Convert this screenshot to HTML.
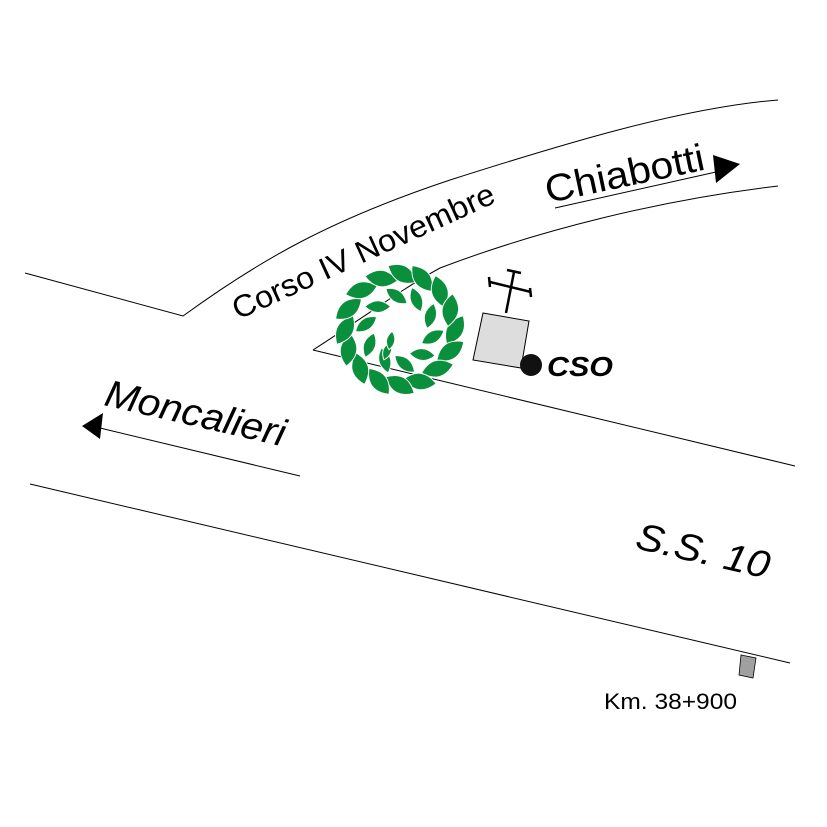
<!DOCTYPE html>
<html><head><meta charset="utf-8"><style>html,body{margin:0;padding:0;background:#fff}svg{display:block}</style></head>
<body>
<svg width="827" height="827" viewBox="0 0 827 827" xmlns="http://www.w3.org/2000/svg" font-family="Liberation Sans, Arial, sans-serif">
<rect width="827" height="827" fill="#fff"/>
<g fill="none" stroke="#000" stroke-width="1">
<path d="M25,273 L183,316 C260,260 330,220 450,180 C560,145 680,108 778,100"/>
<path d="M313,350 C360,320 400,290 440,268 C540,230 660,200 778,186"/>
<path d="M313,350 L795,466"/>
<path d="M30,484 L790,663"/>
<path d="M555,208 L716,172"/>
<path d="M100,428 L300,476"/>
</g>
<polygon points="740,164 713,155 716,183" fill="#000"/>
<polygon points="82,426 103,413 100,439" fill="#000"/>
<text transform="translate(238,320) rotate(-24.5)" font-size="31" textLength="285" lengthAdjust="spacingAndGlyphs">Corso IV Novembre</text>
<text transform="translate(548,203) rotate(-12)" font-size="38" textLength="162" lengthAdjust="spacingAndGlyphs">Chiabotti</text>
<text transform="translate(103,405) rotate(13)" font-size="38" font-style="italic" textLength="184" lengthAdjust="spacingAndGlyphs">Moncalieri</text>
<text transform="translate(634,548) rotate(13)" font-size="38" font-style="italic" textLength="136" lengthAdjust="spacingAndGlyphs">S.S. 10</text>
<text x="547" y="376" font-size="28" font-weight="bold" font-style="italic" textLength="66" lengthAdjust="spacingAndGlyphs">CSO</text>
<text x="604" y="709" font-size="22" textLength="133" lengthAdjust="spacingAndGlyphs">Km. 38+900</text>
<polygon points="741,655 756,658 753,678 739,675" fill="#a0a0a0" stroke="#000" stroke-width="0.8"/>
<!-- church -->
<polygon points="483,313 529,321 521,368 473,360" fill="#ddd" stroke="#000" stroke-width="1"/>
<g stroke="#000" stroke-width="2.5" fill="none">
<path d="M514,272 L506,313"/>
<path d="M490,282 L531,292"/>
<path d="M507,270 L521,273"/>
<path d="M489,277 L490,287"/>
<path d="M530,288 L531,297"/>
</g>
<circle cx="531" cy="365" r="11" fill="#111"/>
<!-- wreath -->
<g fill="#0a8f3c" stroke="#fff" stroke-width="0.8" transform="translate(400,330) scale(1.17) translate(-400,-330)">
<path d="M0,-14 Q14,0 0,14 Q-14,0 0,-14Z" transform="translate(447,330) rotate(30)"/>
<path d="M0,-14 Q14,0 0,14 Q-14,0 0,-14Z" transform="translate(443,348) rotate(55)"/>
<path d="M0,-14 Q14,0 0,14 Q-14,0 0,-14Z" transform="translate(432,363) rotate(75)"/>
<path d="M0,-14 Q14,0 0,14 Q-14,0 0,-14Z" transform="translate(417,374) rotate(98)"/>
<path d="M0,-14 Q14,0 0,14 Q-14,0 0,-14Z" transform="translate(400,377) rotate(120)"/>
<path d="M0,-14 Q14,0 0,14 Q-14,0 0,-14Z" transform="translate(382,374) rotate(142)"/>
<path d="M0,-14 Q14,0 0,14 Q-14,0 0,-14Z" transform="translate(366,363) rotate(165)"/>
<path d="M0,-14 Q14,0 0,14 Q-14,0 0,-14Z" transform="translate(356,347) rotate(188)"/>
<path d="M0,-14 Q14,0 0,14 Q-14,0 0,-14Z" transform="translate(353,330) rotate(210)"/>
<path d="M0,-14 Q14,0 0,14 Q-14,0 0,-14Z" transform="translate(356,312) rotate(232)"/>
<path d="M0,-14 Q14,0 0,14 Q-14,0 0,-14Z" transform="translate(367,296) rotate(255)"/>
<path d="M0,-14 Q14,0 0,14 Q-14,0 0,-14Z" transform="translate(384,286) rotate(278)"/>
<path d="M0,-14 Q14,0 0,14 Q-14,0 0,-14Z" transform="translate(402,282) rotate(300)"/>
<path d="M0,-14 Q14,0 0,14 Q-14,0 0,-14Z" transform="translate(419,286) rotate(322)"/>
<path d="M0,-14 Q14,0 0,14 Q-14,0 0,-14Z" transform="translate(434,297) rotate(345)"/>
<path d="M0,-14 Q14,0 0,14 Q-14,0 0,-14Z" transform="translate(443,313) rotate(8)"/>
<path d="M0,-11 Q10,0 0,11 Q-10,0 0,-11Z" transform="translate(428,336) rotate(60)"/>
<path d="M0,-11 Q10,0 0,11 Q-10,0 0,-11Z" transform="translate(419,351) rotate(95)"/>
<path d="M0,-11 Q10,0 0,11 Q-10,0 0,-11Z" transform="translate(404,359) rotate(130)"/>
<path d="M0,-11 Q10,0 0,11 Q-10,0 0,-11Z" transform="translate(387,356) rotate(165)"/>
<path d="M0,-11 Q10,0 0,11 Q-10,0 0,-11Z" transform="translate(374,343) rotate(200)"/>
<path d="M0,-11 Q10,0 0,11 Q-10,0 0,-11Z" transform="translate(371,325) rotate(235)"/>
<path d="M0,-11 Q10,0 0,11 Q-10,0 0,-11Z" transform="translate(381,310) rotate(270)"/>
<path d="M0,-11 Q10,0 0,11 Q-10,0 0,-11Z" transform="translate(397,301) rotate(305)"/>
<path d="M0,-11 Q10,0 0,11 Q-10,0 0,-11Z" transform="translate(414,304) rotate(340)"/>
<path d="M0,-11 Q10,0 0,11 Q-10,0 0,-11Z" transform="translate(426,318) rotate(15)"/>
<path d="M0,-8 Q7,0 0,8 Q-7,0 0,-8Z" transform="translate(389,348) rotate(20)"/>
<path d="M0,-8 Q7,0 0,8 Q-7,0 0,-8Z" transform="translate(392,339) rotate(10)"/>
</g>
</svg>
</body></html>
